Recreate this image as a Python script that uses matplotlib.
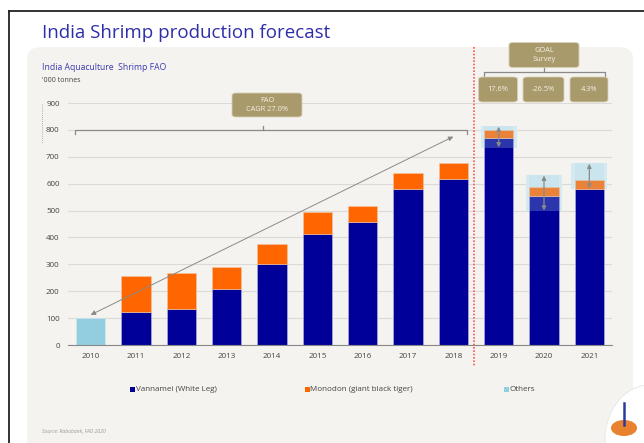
import numpy as np
import matplotlib
matplotlib.use('Agg')
import matplotlib.pyplot as plt
from matplotlib.patches import FancyBboxPatch, Ellipse, Rectangle
from matplotlib.lines import Line2D

plt.rcParams['font.family'] = ['Open Sans', 'DejaVu Sans']

years = ['2010', '2011', '2012', '2013', '2014', '2015', '2016', '2017', '2018', '2019', '2020', '2021']
vannamei = [0, 124, 135, 210, 302, 414, 458, 580, 618, 768, 555, 580]
monodon = [0, 131, 133, 80, 73, 82, 60, 58, 60, 31, 33, 32]
others = [100, 0, 0, 0, 0, 0, 0, 0, 0, 0, 0, 0]

# forecast ranges (GOAL survey) for 2019-2021
fc_idx = [9, 10, 11]
fc_low = [733, 498, 580]
fc_high = [814, 632, 676]
fc_growth = ['17.6%', '-26.5%', '4.3%']

NAVY = '#000099'
ORANGE = '#FF6600'
LBLUE = '#92CDE0'
KHAKI = '#A99A6C'
PANEL = '#F5F3EF'

W, H = 644, 443
fig = plt.figure(figsize=(W / 100, H / 100), dpi=100)
fig.patch.set_facecolor('white')


def fx(px):
    return px / W


def fy(py):
    return 1 - py / H


# slide frame and panel
fig.add_artist(Line2D([fx(9), fx(9)], [fy(11), fy(443)], color='#222222', lw=1.3, zorder=-5))
fig.add_artist(Line2D([fx(9), fx(644)], [fy(11), fy(11)], color='#222222', lw=1.3, zorder=-5))
panel = FancyBboxPatch((fx(27), fy(470)), fx(633) - fx(27), fy(47) - fy(470),
                       boxstyle='round,pad=0,rounding_size=0.025',
                       transform=fig.transFigure, facecolor=PANEL, edgecolor='none',
                       zorder=-10)
fig.add_artist(panel)

fig.text(fx(42), fy(33), 'India Shrimp production forecast', fontsize=13.5,
         color='#2E2EA8', va='center', ha='left')
fig.text(fx(42), fy(68), 'India Aquaculture  Shrimp FAO', fontsize=6.2,
         color='#3A3AB0', va='center', ha='left')
fig.text(fx(42), fy(80), "'000 tonnes", fontsize=5, color='#444444', va='center', ha='left')
fig.text(fx(42), fy(432), 'Source: Rabobank, FAO 2020', fontsize=3.6, color='#999999',
         style='italic', va='center', ha='left')

ax = fig.add_axes([fx(68), fy(345), fx(612) - fx(68), fy(103) - fy(345)])
ax.set_facecolor('none')
ax.set_zorder(1)
x = np.arange(len(years))
bw = 0.65

# forecast range boxes: solid tint behind the bars, light veil over them
for i, lo, hi in zip(fc_idx, fc_low, fc_high):
    ax.bar(i, hi - lo, 0.8, bottom=lo, color='#D4EAF0', zorder=1.5, linewidth=0)

ax.bar(x, vannamei, bw, color=NAVY, edgecolor='#B8B8E8', linewidth=0.4, zorder=2)
ax.bar(x, monodon, bw, bottom=vannamei, color=ORANGE, edgecolor='#F0C8A8', linewidth=0.4, zorder=2)
ax.bar(x, others, bw, color=LBLUE, edgecolor='#D0EAF2', linewidth=0.4, zorder=2)

for i, lo, hi in zip(fc_idx, fc_low, fc_high):
    ax.bar(i, hi - lo, bw, bottom=lo, color='#ADD8E6', alpha=0.25, zorder=3, linewidth=0)
    ax.annotate('', xy=(i, lo + 2), xytext=(i, hi - 2),
                arrowprops=dict(arrowstyle='<|-|>', color='#8A8A8A', lw=0.9,
                                mutation_scale=6, shrinkA=0, shrinkB=0), zorder=4)

ax.set_xlim(-0.5, len(years) - 0.5)
ax.set_ylim(0, 900)
ax.set_yticks(np.arange(0, 901, 100))
ax.set_xticks(x)
ax.set_xticklabels(years)
ax.grid(axis='y', color='#DCDAD6', lw=0.8, zorder=0)
ax.set_axisbelow(True)
for s in ['top', 'right', 'left']:
    ax.spines[s].set_visible(False)
ax.spines['bottom'].set_color('#888888')
ax.spines['bottom'].set_linewidth(0.8)
ax.tick_params(axis='both', length=0, labelsize=5.8, labelcolor='#444444', pad=6)

# historic/forecast divider
fig.add_artist(Line2D([fx(474), fx(474)], [fy(47), fy(366)], color='#FF5555',
                      lw=1.2, ls=(0, (1, 1)), zorder=3))
# small dotted mark on the left
fig.add_artist(Line2D([fx(42), fx(42)], [fy(104), fy(143)], color='#999999',
                      lw=0.6, ls=(0, (1, 1.5))))

# CAGR bracket and arrow
br_y = 800
ax.plot([-0.35, -0.35, 8.3, 8.3], [785, br_y, br_y, 785], color='#8A8A8A', lw=0.9,
        clip_on=False, zorder=5)
ax.plot([3.8, 3.8], [br_y, 815], color='#8A8A8A', lw=0.9, clip_on=False, zorder=5)
ax.annotate('', xy=(0, 112), xytext=(8, 775),
            arrowprops=dict(arrowstyle='<|-|>', color='#8A8A8A', lw=0.7,
                            mutation_scale=7, shrinkA=0, shrinkB=0), zorder=5)


def khaki_box(cx, cy, w, h, text, fs=5.3):
    box = FancyBboxPatch((fx(cx - w / 2), fy(cy + h / 2)), fx(w), h / H,
                         boxstyle='round,pad=0,rounding_size=0.006',
                         transform=fig.transFigure, facecolor=KHAKI,
                         edgecolor='#D8D0B8', linewidth=0.6, zorder=6)
    fig.add_artist(box)
    fig.text(fx(cx), fy(cy), text, fontsize=fs, color='#F4F0E4', ha='center',
             va='center', linespacing=1.3, zorder=7)


khaki_box(267, 105, 70, 24, 'FAO\nCAGR 27.0%')
khaki_box(544, 55, 70, 25, 'GOAL\nSurvey')

# GOAL bracket
gb = [Line2D([fx(484), fx(484), fx(605), fx(605)], [fy(77), fy(72), fy(72), fy(77)]),
      Line2D([fx(544), fx(544)], [fy(72), fy(67)])]
for ln in gb:
    ln.set_color('#8A8A8A')
    ln.set_linewidth(0.9)
    fig.add_artist(ln)

for cx, w, txt in zip([498, 543.5, 589], [39, 41, 38], fc_growth):
    khaki_box(cx, 89.5, w, 25, txt)

# legend
leg_items = [(NAVY, 'Vannamei (White Leg)', 132), (ORANGE, 'Monodon (giant black tiger)', 307),
             (LBLUE, 'Others', 506)]
for col, lab, px in leg_items:
    fig.add_artist(Rectangle((fx(px - 2.5), fy(392)), fx(5), 5 / H,
                             transform=fig.transFigure, facecolor=col, edgecolor='none'))
    fig.text(fx(px + 3.5), fy(389.5), lab, fontsize=5.8, color='#444444', va='center', ha='left')

# logo corner
fig.add_artist(Ellipse((fx(650), fy(440)), fx(90), 110 / H, transform=fig.transFigure,
                       facecolor='white', edgecolor='#E6E6E6', lw=0.6))
fig.add_artist(Ellipse((fx(624), fy(428)), fx(26), 16 / H, transform=fig.transFigure,
                       facecolor='#E8822E', edgecolor='none'))
fig.add_artist(Line2D([fx(624), fx(624)], [fy(403), fy(425)], color='#2A3A9A', lw=1.8))

fig.savefig('out.png', dpi=100, facecolor='white')
